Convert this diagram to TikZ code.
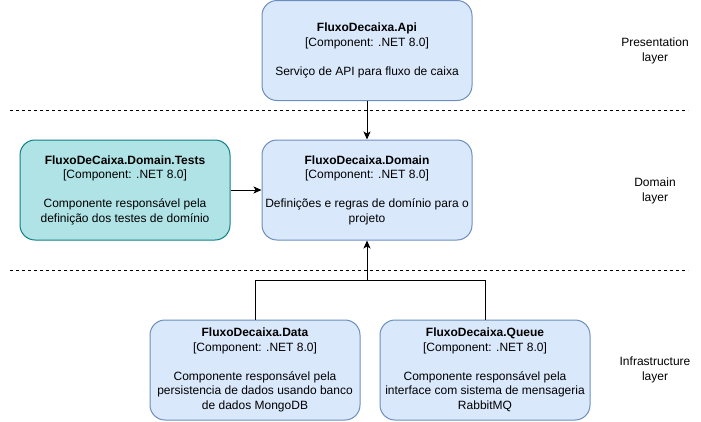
\documentclass[tikz,border=0pt]{standalone}
\usepackage{fontspec}
\setmainfont{Liberation Sans}
\usetikzlibrary{arrows.meta}
\definecolor{bluefill}{HTML}{DAE8FC}
\definecolor{blueline}{HTML}{6C8EBF}
\definecolor{tealfill}{HTML}{B0E3E6}
\definecolor{tealline}{HTML}{0E8088}
\tikzset{
  comp/.style={draw=blueline, fill=bluefill, line width=1pt, rounded corners=15pt,
    minimum width=210pt, minimum height=100pt, align=center, inner sep=0pt,
    font=\fontsize{12}{14.5}\selectfont},
  testcomp/.style={comp, draw=tealline, fill=tealfill},
  layerlabel/.style={align=center, font=\fontsize{12}{14.5}\selectfont, inner sep=0pt},
  sep/.style={draw=black, line width=1pt, dash pattern=on 3pt off 3pt},
  conn/.style={draw=black, line width=1pt, -{Stealth[length=8pt,width=7pt,inset=2pt]}},
  plain/.style={draw=black, line width=1pt}
}
\begin{document}
\begin{tikzpicture}[x=1pt,y=-1pt]
\useasboundingbox (0,0) rectangle (701,421);
\node[comp] (api) at (367,50.5) {\textbf{FluxoDecaixa.Api}\\{[Component: .NET 8.0]}\\[14.5pt]Serviço de API para fluxo de caixa};
\node[comp] (domain) at (367,190) {\textbf{FluxoDecaixa.Domain}\\{[Component: .NET 8.0]}\\[14.5pt]Definições e regras de domínio para o\\projeto};
\node[testcomp] (tests) at (125,190) {\textbf{FluxoDeCaixa.Domain.Tests}\\{[Component: .NET 8.0]}\\[14.5pt]Componente responsável pela\\definição dos testes de domínio};
\node[comp] (data) at (255,370) {\textbf{FluxoDecaixa.Data}\\{[Component: .NET 8.0]}\\[14.5pt]Componente responsável pela\\persistencia de dados usando banco\\de dados MongoDB};
\node[comp] (queue) at (485,370) {\textbf{FluxoDecaixa.Queue}\\{[Component: .NET 8.0]}\\[14.5pt]Componente responsável pela\\interface com sistema de mensageria\\RabbitMQ};
\node[layerlabel] (lpres) at (655,51) {Presentation\\layer};
\node[layerlabel] (ldom) at (655,191) {Domain\\layer};
\node[layerlabel] (linfra) at (655,370) {Infrastructure\\layer};
\coordinate (s1a) at (10,110);
\coordinate (s1b) at (688,110);
\coordinate (s2a) at (10,270);
\coordinate (s2b) at (688,270);
\draw[sep] (s1a) -- (s1b);
\draw[sep] (s2a) -- (s2b);
\draw[conn] (api.south) -- (domain.north);
\draw[conn] (tests.east) -- (domain.west);
\coordinate (j) at (367,280);
\draw[plain] (data.north) |- (j);
\draw[plain] (queue.north) |- (j);
\draw[conn] (j) -- (domain.south);
\end{tikzpicture}
\end{document}
